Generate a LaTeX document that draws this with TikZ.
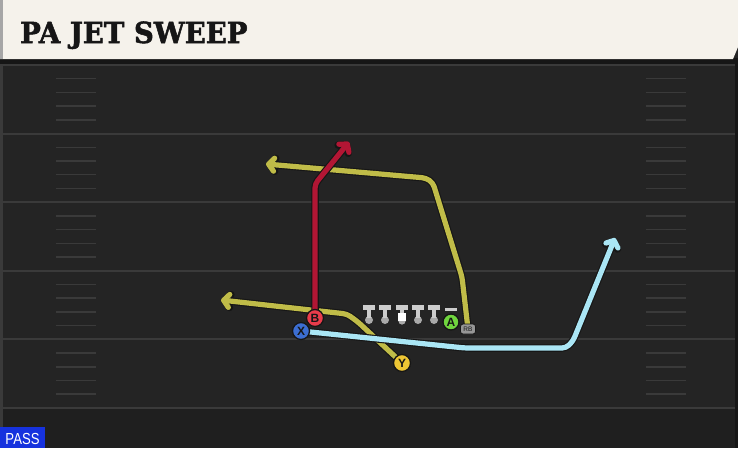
\documentclass[tikz,border=0pt]{standalone}
\usepackage{fontspec}
\usetikzlibrary{arrows.meta}
\newfontfamily\titlefont{DejaVu Serif Bold}[FakeBold=1.8]
\newfontfamily\labelfont{Liberation Sans}
\definecolor{cream}{RGB}{245,242,235}
\definecolor{field}{RGB}{36,36,36}
\definecolor{fielddark}{RGB}{31,31,31}
\definecolor{yardline}{RGB}{58,58,58}
\definecolor{olive}{RGB}{192,188,72}
\definecolor{crimson}{RGB}{178,22,52}
\definecolor{skyblue}{RGB}{170,230,245}
\definecolor{pred}{RGB}{232,60,75}
\definecolor{pblue}{RGB}{60,110,210}
\definecolor{pyellow}{RGB}{238,198,52}
\definecolor{pgreen}{RGB}{112,214,62}
\definecolor{passblue}{RGB}{22,50,222}
\definecolor{ink}{RGB}{22,22,22}
\definecolor{olgray}{RGB}{205,205,205}
\definecolor{olbulb}{RGB}{170,170,170}
\tikzset{
  yard/.style={draw=yardline, line width=2pt},
  hashmark/.style={draw=yardline, line width=1.5pt},
  routeout/.style={draw=ink, line width=7.5pt, line join=round, rounded corners=4pt},
  routein/.style={line width=5.2pt, line join=round, rounded corners=4pt},
  tip/.style={-{Straight Barb[length=5.5pt,width=13pt,round]}},
  player/.style={circle, draw=ink, line width=1.3pt, minimum size=17pt, inner sep=0pt,
    text=ink, font=\labelfont\bfseries\fontsize{12}{12}\selectfont},
  rbbox/.style={rectangle, rounded corners=2.5pt, draw=ink, line width=0.8pt, fill={rgb,255:red,150;green,150;blue,150},
    minimum width=15pt, minimum height=10pt, inner sep=0pt, text=ink, font=\labelfont\fontsize{6.5}{6.5}\selectfont},
  linepart/.style={fill=olgray, draw=none}
}
\begin{document}
\begin{tikzpicture}[x=1pt,y=-1pt]
\useasboundingbox (0,0) rectangle (738,448);
% field
\fill[field] (0,0) rectangle (738,448);
\fill[fielddark] (0,408) rectangle (738,448);
\fill[yardline] (0,59) rectangle (3,448);
\fill[ink] (735,59) rectangle (738,448);
% yard lines
\foreach \k in {0,...,5} {
  \draw[yard] (3,{65+68.6*\k}) -- (735,{65+68.6*\k});
}
% hash marks
\foreach \k in {0,...,4} {
  \foreach \j in {1,...,4} {
    \draw[hashmark] (56,{65+68.6*\k+13.7*\j}) -- (96,{65+68.6*\k+13.7*\j});
    \draw[hashmark] (646,{65+68.6*\k+13.7*\j}) -- (686,{65+68.6*\k+13.7*\j});
  }
}
% title bar
\fill[ink] (0,58) rectangle (738,64);
\fill[cream] (0,0) -- (738,0) -- (738,47) -- (733,59) -- (0,59) -- cycle;
\fill[gray!70] (0,0) rectangle (3,59);
\node[anchor=base west, inner sep=0pt, text=ink] (title) at (20,43)
  {\titlefont\fontsize{29}{29}\selectfont\scalebox{0.95}[1]{PA JET SWEEP}};
% pass label
\fill[passblue] (0,427) rectangle (45,448);
\node[anchor=base, inner sep=0pt, text=white] (pass) at (22.5,444)
  {\labelfont\fontsize{16}{16}\selectfont\scalebox{0.82}[1]{PASS}};
% player positions
\coordinate (B) at (315,318);
\coordinate (X) at (301,331);
\coordinate (Y) at (402,363);
\coordinate (A) at (451,322);
\coordinate (RB) at (468,329);
\coordinate (redtip) at (349,142);
\coordinate (rbtip) at (266,164);
\coordinate (ytip) at (221,300);
\coordinate (xtip) at (615,238);
% routes
\draw[routeout, tip] (RB) -- (462,277) -- (433,183) -- (426,178) -- (rbtip);
\draw[routein, olive, tip] (RB) -- (462,277) -- (433,183) -- (426,178) -- (rbtip);
\draw[routeout, tip] (Y) -- (358,322) -- (347,314) -- (ytip);
\draw[routein, olive, tip] (Y) -- (358,322) -- (347,314) -- (ytip);
\draw[routeout, tip] (X) -- (465,348) -- (566,348) -- (573,341) -- (xtip);
\draw[routein, skyblue, tip] (X) -- (465,348) -- (566,348) -- (573,341) -- (xtip);
\draw[routeout, tip] (B) -- (315,184) -- (redtip);
\draw[routein, crimson, tip] (B) -- (315,184) -- (redtip);
% offensive line
\foreach \x in {369,385,418,434} {
  \fill[olbulb] (\x,320) circle (4);
  \fill[linepart] (\x-6,305) rectangle (\x+6,309.5);
  \fill[linepart] (\x-2.2,309.5) rectangle (\x+2.2,318);
}
\fill[olbulb] (402,321) circle (3.6);
\fill[linepart] (396,305) rectangle (408,309.5);
\fill[linepart] (399.8,309.5) rectangle (404.2,313);
\fill[white] (397.8,313) rectangle (406.2,321);
\fill[linepart] (445,307.5) rectangle (457,311);
% players
\node[player, fill=pred] (nB) at (B) {B};
\node[player, fill=pblue] (nX) at (X) {X};
\node[player, fill=pyellow] (nY) at (Y) {Y};
\node[player, fill=pgreen, minimum size=16pt] (nA) at (A) {A};
\node[rbbox] (nRB) at (RB) {RB};
\end{tikzpicture}
\end{document}
